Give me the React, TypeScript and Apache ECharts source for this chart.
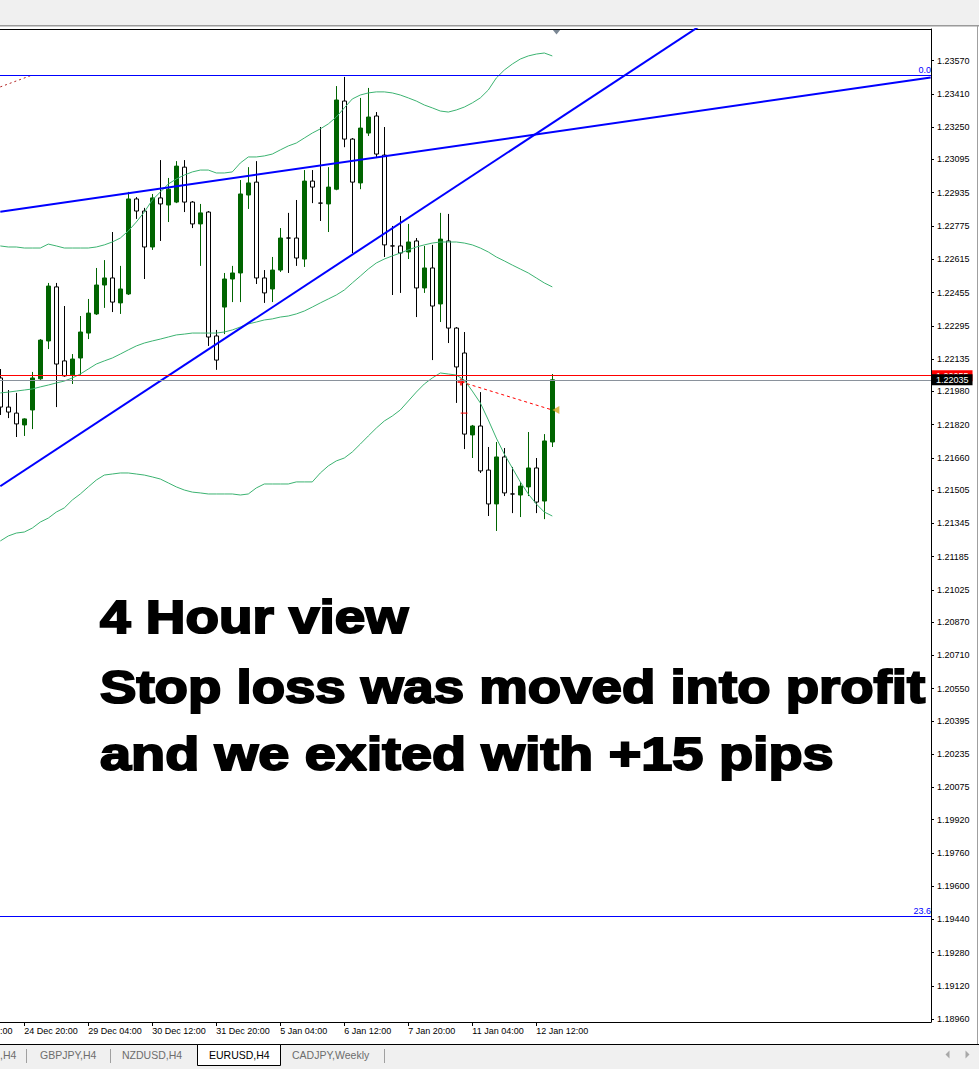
import React, { useEffect, useRef } from "react";
import * as echarts from "echarts";

// ---- data ----
const xTickBars = [3, 11, 19, 27, 35, 43, 51, 59, 67];
const xTickLabels = ["24 Dec 20:00", "29 Dec 04:00", "30 Dec 12:00", "31 Dec 20:00", "5 Jan 04:00", "6 Jan 12:00", "7 Jan 20:00", "11 Jan 04:00", "12 Jan 12:00"];

const yTickLabels = ["1.23570", "1.23410", "1.23250", "1.23095", "1.22935", "1.22775", "1.22615", "1.22455", "1.22295", "1.22135", "1.21980", "1.21820", "1.21660", "1.21505", "1.21345", "1.21185", "1.21025", "1.20870", "1.20710", "1.20550", "1.20395", "1.20235", "1.20075", "1.19920", "1.19760", "1.19600", "1.19440", "1.19280", "1.19120", "1.18960"];

// EURUSD H4 candles: [open, close, low, high]
const candles = [
  [1.22044, 1.21904, 1.21866, 1.22087],
  [1.21904, 1.21880, 1.21851, 1.21986],
  [1.21875, 1.21823, 1.21760, 1.21972],
  [1.21818, 1.21847, 1.21765, 1.21850],
  [1.21890, 1.22044, 1.21798, 1.22073],
  [1.22040, 1.22226, 1.22035, 1.22231],
  [1.22222, 1.22486, 1.22183, 1.22501],
  [1.22482, 1.22111, 1.21904, 1.22501],
  [1.22126, 1.22054, 1.22050, 1.22390],
  [1.22059, 1.22135, 1.22015, 1.22159],
  [1.22140, 1.22265, 1.22059, 1.22342],
  [1.22260, 1.22356, 1.22231, 1.22424],
  [1.22352, 1.22491, 1.22347, 1.22573],
  [1.22491, 1.22525, 1.22381, 1.22611],
  [1.22525, 1.22409, 1.22361, 1.22746],
  [1.22405, 1.22472, 1.22352, 1.22583],
  [1.22448, 1.22905, 1.22443, 1.22939],
  [1.22905, 1.22847, 1.22809, 1.22914],
  [1.22847, 1.22674, 1.22520, 1.22862],
  [1.22674, 1.22910, 1.22660, 1.22929],
  [1.22910, 1.22881, 1.22703, 1.23092],
  [1.22876, 1.22952, 1.22794, 1.23006],
  [1.22890, 1.23063, 1.22885, 1.23087],
  [1.23058, 1.22890, 1.22842, 1.23092],
  [1.22890, 1.22785, 1.22765, 1.22895],
  [1.22785, 1.22838, 1.22583, 1.22881],
  [1.22842, 1.22241, 1.22198, 1.22847],
  [1.22246, 1.22130, 1.22083, 1.22275],
  [1.22385, 1.22520, 1.22255, 1.22549],
  [1.22520, 1.22549, 1.22409, 1.22583],
  [1.22549, 1.22929, 1.22409, 1.22996],
  [1.22924, 1.22982, 1.22857, 1.23058],
  [1.22986, 1.22525, 1.22496, 1.23087],
  [1.22525, 1.22453, 1.22405, 1.22563],
  [1.22472, 1.22563, 1.22409, 1.22626],
  [1.22563, 1.22717, 1.22554, 1.22765],
  [1.22717, 1.22717, 1.22549, 1.22838],
  [1.22717, 1.22621, 1.22583, 1.22900],
  [1.22616, 1.22991, 1.22578, 1.23044],
  [1.22991, 1.22962, 1.22885, 1.23044],
  [1.22885, 1.22885, 1.22799, 1.23251],
  [1.22881, 1.22962, 1.22746, 1.23058],
  [1.22952, 1.23381, 1.22947, 1.23448],
  [1.23376, 1.23193, 1.23154, 1.23492],
  [1.23193, 1.22986, 1.22645, 1.23198],
  [1.22982, 1.23246, 1.22952, 1.23391],
  [1.23222, 1.23299, 1.23208, 1.23439],
  [1.23304, 1.23121, 1.23107, 1.23323],
  [1.23116, 1.22684, 1.22626, 1.23251],
  [1.22679, 1.22679, 1.22443, 1.22775],
  [1.22679, 1.22645, 1.22453, 1.22823],
  [1.22650, 1.22698, 1.22616, 1.22785],
  [1.22703, 1.22477, 1.22337, 1.22717],
  [1.22477, 1.22573, 1.22453, 1.22679],
  [1.22573, 1.22390, 1.22130, 1.22684],
  [1.22400, 1.22712, 1.22313, 1.22838],
  [1.22703, 1.22284, 1.22212, 1.22833],
  [1.22284, 1.22097, 1.21924, 1.22289],
  [1.22164, 1.21774, 1.21702, 1.22265],
  [1.21770, 1.21813, 1.21659, 1.21818],
  [1.21813, 1.21597, 1.21587, 1.21976],
  [1.21601, 1.21438, 1.21380, 1.21712],
  [1.21438, 1.21664, 1.21308, 1.21736],
  [1.21664, 1.21491, 1.21476, 1.21707],
  [1.21486, 1.21486, 1.21394, 1.21616],
  [1.21481, 1.21524, 1.21375, 1.21544],
  [1.21520, 1.21611, 1.21476, 1.21784],
  [1.21611, 1.21447, 1.21394, 1.21659],
  [1.21452, 1.21741, 1.21365, 1.21774],
  [1.21736, 1.22035, 1.21712, 1.22063],
];

const bbUpper = [1.22679, 1.22674, 1.22674, 1.22669, 1.22669, 1.22669, 1.22688, 1.22679, 1.22669, 1.22669, 1.22669, 1.22669, 1.22674, 1.22684, 1.22698, 1.22717, 1.22751, 1.22794, 1.22842, 1.22900, 1.22938, 1.22977, 1.23001, 1.23020, 1.23035, 1.23044, 1.23044, 1.23030, 1.23030, 1.23035, 1.23078, 1.23107, 1.23107, 1.23112, 1.23121, 1.23141, 1.23160, 1.23174, 1.23198, 1.23222, 1.23242, 1.23266, 1.23299, 1.23343, 1.23386, 1.23405, 1.23415, 1.23420, 1.23420, 1.23415, 1.23405, 1.23391, 1.23376, 1.23357, 1.23343, 1.23328, 1.23323, 1.23333, 1.23347, 1.23367, 1.23391, 1.23429, 1.23487, 1.23525, 1.23554, 1.23578, 1.23593, 1.23602, 1.23607, 1.23593];
const bbMiddle = [1.21972, 1.21976, 1.21981, 1.21986, 1.21991, 1.22001, 1.22010, 1.22020, 1.22029, 1.22044, 1.22063, 1.22087, 1.22111, 1.22126, 1.22140, 1.22159, 1.22179, 1.22198, 1.22212, 1.22222, 1.22231, 1.22241, 1.22251, 1.22255, 1.22260, 1.22260, 1.22260, 1.22260, 1.22265, 1.22275, 1.22289, 1.22304, 1.22313, 1.22323, 1.22328, 1.22337, 1.22342, 1.22352, 1.22366, 1.22385, 1.22405, 1.22424, 1.22443, 1.22467, 1.22501, 1.22534, 1.22568, 1.22597, 1.22616, 1.22631, 1.22645, 1.22660, 1.22674, 1.22684, 1.22693, 1.22698, 1.22698, 1.22698, 1.22693, 1.22684, 1.22669, 1.22650, 1.22626, 1.22607, 1.22587, 1.22568, 1.22549, 1.22525, 1.22501, 1.22482];
const bbLower = [1.21260, 1.21284, 1.21298, 1.21303, 1.21322, 1.21351, 1.21370, 1.21399, 1.21419, 1.21457, 1.21486, 1.21520, 1.21553, 1.21577, 1.21582, 1.21587, 1.21587, 1.21582, 1.21577, 1.21568, 1.21558, 1.21539, 1.21520, 1.21505, 1.21495, 1.21491, 1.21486, 1.21486, 1.21486, 1.21486, 1.21481, 1.21486, 1.21515, 1.21534, 1.21534, 1.21534, 1.21534, 1.21544, 1.21544, 1.21544, 1.21587, 1.21621, 1.21645, 1.21659, 1.21688, 1.21726, 1.21765, 1.21803, 1.21837, 1.21861, 1.21890, 1.21933, 1.21976, 1.22015, 1.22044, 1.22068, 1.22063, 1.22058, 1.22034, 1.21981, 1.21924, 1.21842, 1.21755, 1.21678, 1.21611, 1.21544, 1.21486, 1.21438, 1.21399, 1.21380];

const askPrice = 1.22055;
const bidPrice = 1.22035;
const fibLevels = [
  { label: "0.0", price: 1.23501 },
  { label: "23.6", price: 1.19456 },
];
// trend lines: [bar, price]
const trendLineA = [[0, 1.22844], [116.3, 1.23489]];
const trendLineB = [[0, 1.21523], [90, 1.23802]];
const oldTradeLine = [[0, 1.23444], [4, 1.23501]];
const tradeLine = [[57.6, 1.22025], [69, 1.2189]];
const tradeOpen = [57.6, 1.22025];
const tradeClose = [69.45, 1.2189];
const stopMark = [[57.55, 1.21875], [58.4, 1.21875]];

const textLines = ["4 Hour view", "Stop loss was moved into profit", "and we exited with +15 pips"];
const tabs = [",H4", "GBPJPY,H4", "NZDUSD,H4", "EURUSD,H4", "CADJPY,Weekly"];

const FONT = "'Liberation Sans', Arial, sans-serif";

export default function App() {
  const ref = useRef<HTMLDivElement>(null);
  useEffect(() => {
    document.body.style.margin = "0";
    if (!ref.current) return;
    const chart = echarts.init(ref.current, null, { renderer: "svg" });

    const xMin = -0.0375;
    const xMax = xMin + 931 / 8;
    const yMin = 1.189462;
    const yMax = 1.237225;

    const candleData = candles.map((c, i) => {
      const item: any = { value: [i, c[0], c[1], c[2], c[3]] };
      if (c[0] === c[1]) {
        item.itemStyle = { color: "#000", color0: "#000", borderColor: "#000", borderColor0: "#000" };
      }
      return item;
    });
    const toLine = (arr: number[]) => arr.map((v, i) => [i, v]);
    const bbStyle = { color: "#3CB371", width: 1 };

    const tabX = [0, 40, 122, 209, 292];

    const graphic: any[] = [
      { type: "rect", shape: { x: 0, y: 0, width: 979, height: 25 }, style: { fill: "#f0f0f0" }, silent: true },
      { type: "rect", shape: { x: 0, y: 25, width: 979, height: 1.5 }, style: { fill: "#9a9a9a" }, silent: true },
      { type: "line", shape: { x1: 977.5, y1: 26, x2: 977.5, y2: 1044 }, style: { stroke: "#a0a0a0", lineWidth: 1 }, silent: true },
      { type: "polygon", shape: { points: [[552.5, 29.5], [560.5, 29.5], [556.5, 34.5]] }, style: { fill: "#7b8794" }, silent: true },
      { type: "text", x: 0, y: 1031, style: { text: ":00", fill: "#000", font: `9px ${FONT}`, textAlign: "left", textVerticalAlign: "middle", align: "left", verticalAlign: "middle" }, silent: true },
      // tab bar
      { type: "rect", shape: { x: 0, y: 1044, width: 979, height: 25 }, style: { fill: "#f0f0f0" }, silent: true },
      { type: "line", shape: { x1: 0, y1: 1044.5, x2: 979, y2: 1044.5 }, style: { stroke: "#000", lineWidth: 1 }, silent: true },
      { type: "rect", shape: { x: 197.5, y: 1044.5, width: 83, height: 21 }, style: { fill: "#ffffff", stroke: "#000", lineWidth: 1 }, silent: true },
      { type: "line", shape: { x1: 26.5, y1: 1049, x2: 26.5, y2: 1063 }, style: { stroke: "#a0a0a0", lineWidth: 1 }, silent: true },
      { type: "line", shape: { x1: 110.5, y1: 1049, x2: 110.5, y2: 1063 }, style: { stroke: "#a0a0a0", lineWidth: 1 }, silent: true },
      { type: "line", shape: { x1: 384.5, y1: 1049, x2: 384.5, y2: 1063 }, style: { stroke: "#a0a0a0", lineWidth: 1 }, silent: true },
      { type: "polygon", shape: { points: [[945.5, 1054.5], [949.5, 1050.5], [949.5, 1058.5]] }, style: { fill: "#a8a8a8" }, silent: true },
      { type: "polygon", shape: { points: [[969.5, 1054.5], [965.5, 1050.5], [965.5, 1058.5]] }, style: { fill: "#a8a8a8" }, silent: true },
    ];
    tabs.forEach((t, i) => {
      graphic.push({
        type: "text", x: tabX[i], y: 1055, silent: true,
        style: { text: t, fill: i === 3 ? "#000" : "#6d6d6d", font: `10.5px ${FONT}`, textAlign: "left", textVerticalAlign: "middle", align: "left", verticalAlign: "middle" },
      });
    });
    const lineY = [616.7, 686.7, 753.7];
    const lineScale = [1.168, 1.162, 1.188];
    textLines.forEach((t, i) => {
      graphic.push({
        type: "text", x: 100, y: lineY[i], scaleX: lineScale[i], z: 100, silent: true,
        style: { text: t, fill: "#000", stroke: "#000", lineWidth: 2, font: `bold 47px ${FONT}`, textAlign: "left", textVerticalAlign: "middle", align: "left", verticalAlign: "middle" },
      });
    });

    chart.setOption({
      animation: false,
      backgroundColor: "#ffffff",
      textStyle: { fontFamily: FONT },
      grid: { left: 0, right: 48, top: 29, bottom: 47, containLabel: false },
      xAxis: [
        {
          type: "value", min: xMin, max: xMax, position: "bottom",
          axisLine: { show: true, onZero: false, lineStyle: { color: "#000", width: 1 } },
          axisTick: { show: true, length: 4, lineStyle: { color: "#000" }, customValues: xTickBars },
          axisLabel: {
            show: true, customValues: xTickBars, align: "left", margin: 4, fontSize: 9, color: "#000", fontFamily: FONT,
            formatter: (v: number) => { const k = xTickBars.indexOf(Math.round(v)); return k >= 0 ? xTickLabels[k] : ""; },
          },
          splitLine: { show: false },
        },
        {
          type: "value", min: xMin, max: xMax, position: "top",
          axisLine: { show: true, onZero: false, lineStyle: { color: "#000", width: 1 } },
          axisTick: { show: false }, axisLabel: { show: false }, splitLine: { show: false },
        },
      ],
      yAxis: {
        type: "value", min: yMin, max: yMax, position: "right",
        axisLine: { show: true, onZero: false, lineStyle: { color: "#000", width: 1 } },
        axisTick: { show: true, length: 3, lineStyle: { color: "#000" }, customValues: yTickLabels.map(Number) },
        axisLabel: {
          show: true, customValues: yTickLabels.map(Number), margin: 6, fontSize: 9, color: "#000", fontFamily: FONT,
          formatter: (v: number) => v.toFixed(5),
        },
        splitLine: { show: false },
      },
      graphic,
      series: [
        {
          type: "line", data: [], silent: true,
          markLine: {
            silent: true, symbol: ["none", "none"], animation: false, precision: 6,
            data: [
              ...fibLevels.map((f) => ({
                yAxis: f.price,
                lineStyle: { color: "#0000ff", width: 1, type: "solid" },
                label: { show: true, position: "insideEndTop", distance: [0, 1], formatter: f.label, color: "#0000ff", fontSize: 9, fontFamily: FONT },
              })),
              {
                yAxis: askPrice,
                lineStyle: { color: "#ff0000", width: 1, type: "solid" },
                label: { show: true, position: "end", distance: 1, formatter: askPrice.toFixed(5), color: "#fff", backgroundColor: "#ff0000", padding: [1, 4, 1, 4], fontSize: 9, fontFamily: FONT },
              },
              {
                yAxis: bidPrice,
                lineStyle: { color: "#8a929c", width: 1, type: "solid" },
                label: { show: true, position: "end", distance: 1, formatter: bidPrice.toFixed(5), color: "#fff", backgroundColor: "#000", padding: [1, 4, 1, 4], fontSize: 9, fontFamily: FONT },
              },
            ],
          },
        },
        {
          type: "candlestick", data: candleData, barWidth: 5, silent: true,
          itemStyle: { color: "#006400", color0: "#ffffff", borderColor: "#006400", borderColor0: "#000000", borderWidth: 1 },
        },
        { type: "line", data: toLine(bbUpper), showSymbol: false, silent: true, lineStyle: bbStyle },
        { type: "line", data: toLine(bbMiddle), showSymbol: false, silent: true, lineStyle: bbStyle },
        { type: "line", data: toLine(bbLower), showSymbol: false, silent: true, lineStyle: bbStyle },
        { type: "line", data: trendLineA, showSymbol: false, silent: true, lineStyle: { color: "#0000ff", width: 2 } },
        { type: "line", data: trendLineB, showSymbol: false, silent: true, lineStyle: { color: "#0000ff", width: 2 } },
        { type: "line", data: oldTradeLine, showSymbol: false, silent: true, lineStyle: { color: "#b22222", width: 1, type: [2, 3] } },
        { type: "line", data: tradeLine, showSymbol: false, silent: true, lineStyle: { color: "#ff0000", width: 1, type: [3, 3] } },
        { type: "line", data: stopMark, showSymbol: false, silent: true, lineStyle: { color: "#ff0000", width: 1 } },
        {
          type: "scatter", data: [tradeOpen], silent: true, symbol: "path://M2,0H4V2H6V4H4V6H2V4H0V2H2Z", symbolSize: 7,
          itemStyle: { color: "#ff0000" },
        },
        {
          type: "scatter", data: [tradeClose], silent: true, symbol: "triangle", symbolSize: [8, 7], symbolRotate: 90,
          itemStyle: { color: "#daa520" },
        },
      ],
    });
    return () => chart.dispose();
  }, []);
  return <div ref={ref} style={{ width: 979, height: 1069 }} />;
}
